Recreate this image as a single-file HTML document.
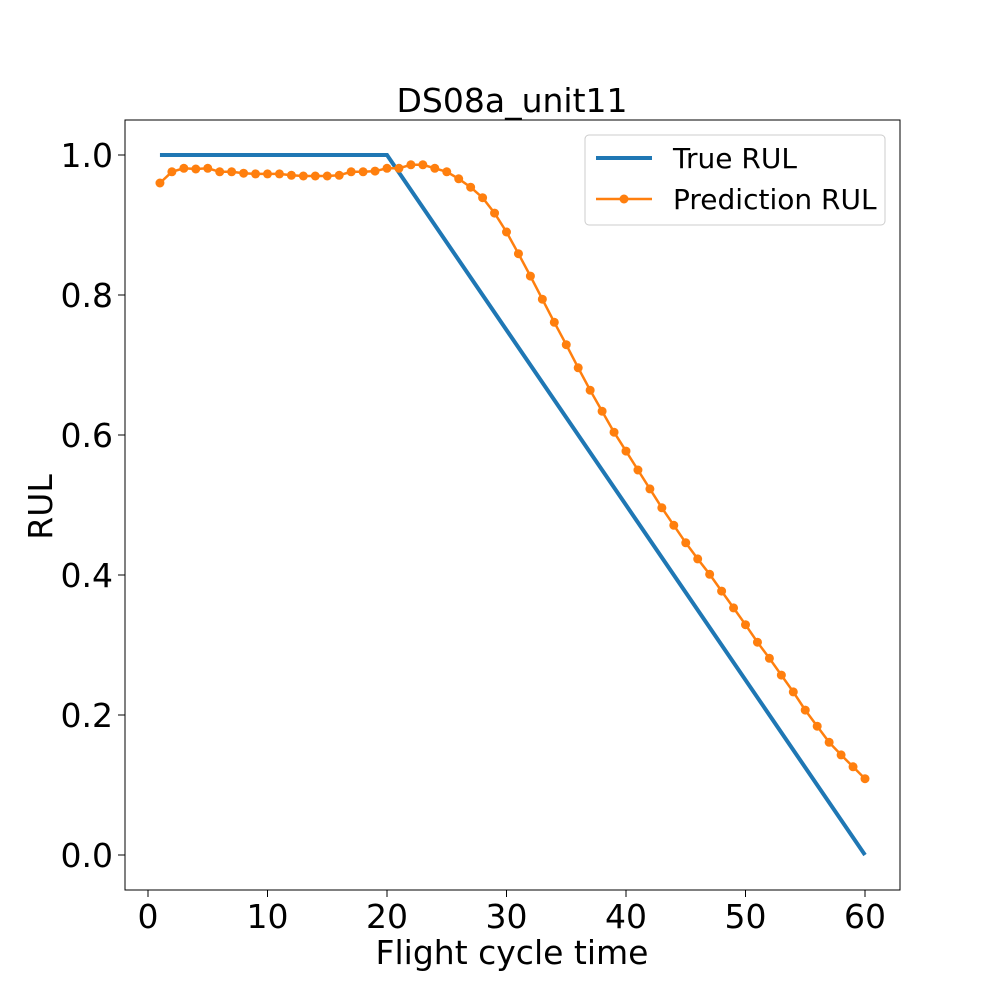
<!DOCTYPE html>
<html><head><meta charset="utf-8"><style>
body{margin:0;background:#fff}
svg{font-family:"DejaVu Sans","Liberation Sans",sans-serif}
</style></head><body>
<svg id="chart" width="1000" height="1000"></svg>
<script>
const xTicks=[0,10,20,30,40,50,60];
const yTicks=[0.0,0.2,0.4,0.6,0.8,1.0];
const yTickLabels=["0.0","0.2","0.4","0.6","0.8","1.0"];
const trueX=[1,20,60];
const trueY=[1.0,1.0,0.0];
const predY=[0.960,0.976,0.981,0.980,0.981,0.976,0.976,0.974,0.973,0.973,0.973,0.971,0.970,0.970,0.970,0.971,0.976,0.976,0.977,0.981,0.981,0.986,0.986,0.981,0.976,0.966,0.954,0.939,0.917,0.890,0.859,0.827,0.794,0.761,0.729,0.696,0.664,0.634,0.604,0.577,0.550,0.523,0.496,0.471,0.446,0.423,0.401,0.377,0.353,0.329,0.304,0.281,0.257,0.233,0.207,0.184,0.161,0.143,0.126,0.109];
const NS="http://www.w3.org/2000/svg";
const svg=document.getElementById('chart');
const L=125,R=900,T=120,B=890;
const sx=v=>148+v*(865-148)/60;
const sy=v=>855-v*700;
function mk(tag,attrs,parent){const e=document.createElementNS(NS,tag);for(const k in attrs)e.setAttribute(k,attrs[k]);(parent||svg).appendChild(e);return e;}
let t=mk('text',{x:512,y:112,'font-size':33,'text-anchor':'middle',fill:'#000'});t.textContent='DS08a_unit11';


xTicks.forEach(v=>{const x=sx(v);
 const l=mk('line',{x1:x,x2:x,y1:B,y2:B+7,stroke:'#000','stroke-width':1});
 
 
 const tx=mk('text',{x:x,y:B+38,'font-size':33,'text-anchor':'middle'});tx.textContent=v;
 
 });
yTicks.forEach((v,i)=>{const y=sy(v);
 const l=mk('line',{x1:L-7,x2:L,y1:y,y2:y,stroke:'#000','stroke-width':1});
 
 
 const tx=mk('text',{x:L-12,y:y+12,'font-size':33,'text-anchor':'end'});tx.textContent=yTickLabels[i];
 
 });
t=mk('text',{x:512,y:964,'font-size':33,'text-anchor':'middle'});t.textContent='Flight cycle time';


t=mk('text',{x:52,y:507,'font-size':33,'text-anchor':'middle',transform:'rotate(-90 52 507)'});t.textContent='RUL';


let p=mk('polyline',{points:trueX.map((x,i)=>sx(x)+','+sy(trueY[i])).join(' '),fill:'none',stroke:'#1f77b4','stroke-width':4});


p=mk('polyline',{points:predY.map((v,i)=>sx(i+1)+','+sy(v)).join(' '),fill:'none',stroke:'#ff7f0e','stroke-width':2.5});


predY.forEach((v,i)=>{const c=mk('circle',{cx:sx(i+1),cy:sy(v),r:4.5,fill:'#ff7f0e'});
 
 });
const fr=mk('rect',{x:L,y:T,width:R-L,height:B-T,fill:'none',stroke:'#000','stroke-width':1});


const g=mk('g',{});


mk('rect',{x:585,y:135,width:300,height:90,rx:4,fill:'#fff',stroke:'#ccc','stroke-width':1},g);
mk('line',{x1:596,x2:652,y1:158,y2:158,stroke:'#1f77b4','stroke-width':4},g);
t=mk('text',{x:673,y:168,'font-size':28},g);t.textContent='True RUL';


mk('line',{x1:596,x2:652,y1:199,y2:199,stroke:'#ff7f0e','stroke-width':2.5},g);
mk('circle',{cx:624,cy:199,r:4.5,fill:'#ff7f0e'},g);
t=mk('text',{x:673,y:209,'font-size':28},g);t.textContent='Prediction RUL';


</script>
</body></html>
